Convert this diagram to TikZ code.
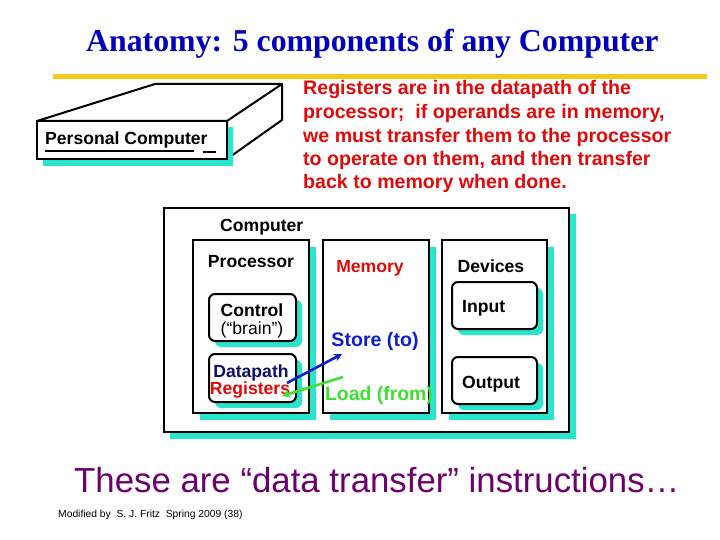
\documentclass[tikz,border=0pt]{standalone}
\usepackage{fontspec}
\setmainfont{Liberation Sans}
\newfontfamily\titlefont{Liberation Serif}
\usetikzlibrary{arrows.meta}
\definecolor{shadowc}{RGB}{40,230,205}
\definecolor{titleblue}{RGB}{0,0,190}
\definecolor{goldline}{RGB}{245,200,30}
\definecolor{redtxt}{RGB}{225,10,10}
\definecolor{navytxt}{RGB}{15,15,105}
\definecolor{storeblue}{RGB}{15,30,200}
\definecolor{loadgreen}{RGB}{60,225,50}
\definecolor{purpletxt}{RGB}{110,0,110}
\tikzset{
  lbl/.style={anchor=base, inner sep=0pt, font=\bfseries\fontsize{17.6}{20}\selectfont},
  lblw/.style={lbl, anchor=base west},
  paraline/.style={anchor=base west, inner sep=0pt, text=redtxt, font=\bfseries\fontsize{19.6}{23.7}\selectfont},
  shad/.style={fill=shadowc, draw=none},
  boxw/.style={fill=white, draw=black, line width=2pt},
  rboxw/.style={boxw, rounded corners=6pt},
  rshad/.style={shad, rounded corners=6pt},
  arr/.style={line width=2.6pt, -{Stealth[length=8pt,width=8pt]}}
}
\begin{document}
\begin{tikzpicture}[x=1pt,y=-1pt]
\useasboundingbox[fill=white] (0,0) rectangle (720,540);

% title
\node[anchor=base west, inner sep=0pt, text=titleblue,
  font=\titlefont\bfseries\fontsize{31.8}{36}\selectfont] (title) at (86,52)
  {Anatomy: 5 components of any Computer};
\draw[goldline, line width=5pt] (53,77) -- (707,77);

% personal computer
\draw[fill=white, line width=2pt, line join=round] (37,121) -- (155,84) -- (282,84) -- (282,120) -- (227,159) -- (227,121) -- cycle;
\draw[line width=2pt] (227,121) -- (282,84);
\fill[shadowc] (43,127) rectangle (233,166);
\draw[boxw] (37,121) rectangle (227,159);
\node[lblw] (pc) at (45,145) {Personal Computer};
\draw[line width=1.6pt] (45,151) -- (194,151);
\draw[line width=1.6pt] (203,152) -- (216,152);

% red paragraph
\node[paraline] (para1) at (303,95) {Registers are in the datapath of the};
\node[paraline] (para2) at (303,119) {processor;~ if operands are in memory,};
\node[paraline] (para3) at (303,143) {we must transfer them to the processor};
\node[paraline] (para4) at (303,166) {to operate on them, and then transfer};
\node[paraline] (para5) at (303,189) {back to memory when done.};

% computer box
\fill[shad] (170,214) rectangle (576,439);
\draw[boxw] (164,208) rectangle (569,432);
\node[lblw] (comp) at (220,232) {Computer};

% processor
\fill[shad] (200,247) rectangle (316,420);
\draw[boxw] (193,240) rectangle (309,413);
\node[lbl] (proc) at (251,267) {Processor};

\fill[rshad] (215,300) rectangle (302,347);
\draw[rboxw] (209,294) rectangle (296,341);
\node[lbl] (ctrl) at (252,316) {Control};
\node[anchor=base, inner sep=0pt, font=\fontsize{17.6}{20}\selectfont] (brain) at (252,334) {(“brain”)};

\fill[rshad] (215,360) rectangle (302,408);
\draw[rboxw] (209,354) rectangle (296,402);
\node[lbl, text=navytxt] (dp) at (251,377) {Datapath};
\node[lbl, text=redtxt] (regs) at (250,394) {Registers};

% memory
\fill[shad] (330,247) rectangle (436,420);
\draw[boxw] (323,240) rectangle (429,413);
\node[lbl, text=redtxt] (mem) at (370,272) {Memory};
\node[lbl, text=storeblue, font=\bfseries\fontsize{19.6}{22}\selectfont] (store) at (375,346) {Store (to)};
\node[lbl, text=loadgreen, font=\bfseries\fontsize{19.4}{22}\selectfont] (load) at (379,400) {Load (from)};

% devices
\fill[shad] (449,247) rectangle (554,420);
\draw[boxw] (442,240) rectangle (547,413);
\node[lbl] (dev) at (491,272) {Devices};

\fill[rshad] (458,288) rectangle (543,335);
\draw[rboxw] (452,282) rectangle (537,329);
\node[lblw] (inp) at (462,312) {Input};

\fill[rshad] (458,363) rectangle (543,410);
\draw[rboxw] (452,357) rectangle (537,404);
\node[lblw] (outp) at (462,388) {Output};

% arrows
\coordinate (bs) at (287,383);
\coordinate (be) at (342,354);
\coordinate (gs) at (343,377);
\coordinate (ge) at (282,396);
\draw[arr, storeblue] (bs) -- (be);
\draw[arr, loadgreen] (gs) -- (ge);

% bottom text
\node[anchor=base west, inner sep=0pt, text=purpletxt,
  font=\fontsize{34.8}{40}\selectfont] (bottom) at (74,492)
  {These are “data transfer” instructions…};
\node[anchor=base west, inner sep=0pt, font=\fontsize{10.3}{12}\selectfont] (foot) at (58,517)
  {Modified by~ S. J. Fritz~ Spring 2009 (38)};
\end{tikzpicture}
\end{document}
